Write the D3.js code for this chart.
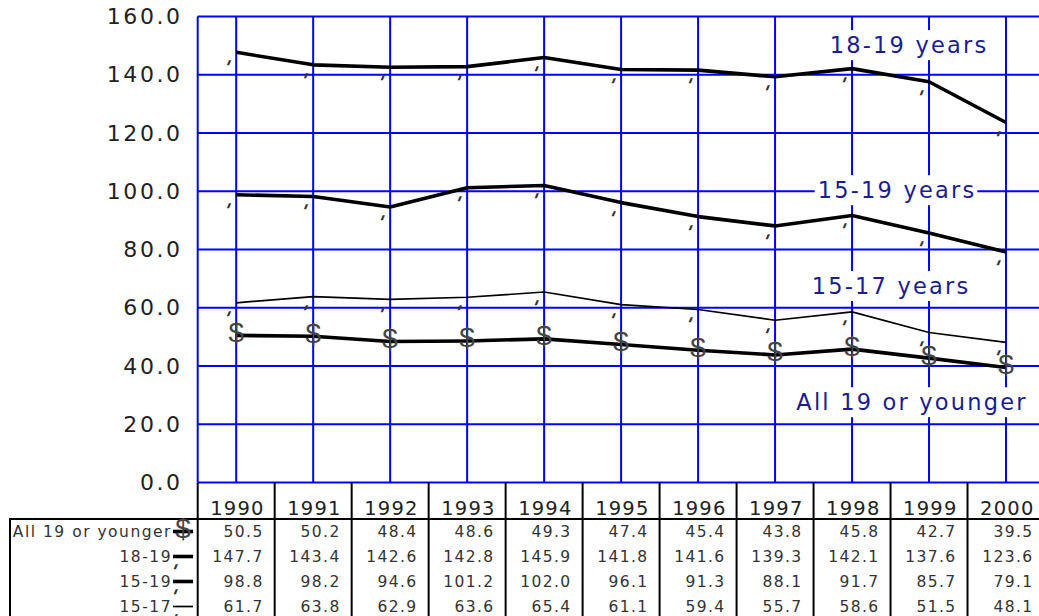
<!DOCTYPE html>
<html>
<head>
<meta charset="utf-8">
<script src="https://cdn.jsdelivr.net/npm/d3@7"></script>
<style>
  body { margin: 0; background: #fff; }
  svg { display: block; }
  text { font-family: "DejaVu Sans", sans-serif; }
</style>
</head>
<body>
<div id="chart"></div>
<script>
// data
var years = [1990, 1991, 1992, 1993, 1994, 1995, 1996, 1997, 1998, 1999, 2000];
var all19 = [50.5, 50.2, 48.4, 48.6, 49.3, 47.4, 45.4, 43.8, 45.8, 42.7, 39.5];
var age1819 = [147.7, 143.4, 142.6, 142.8, 145.9, 141.8, 141.6, 139.3, 142.1, 137.6, 123.6];
var age1519 = [98.8, 98.2, 94.6, 101.2, 102.0, 96.1, 91.3, 88.1, 91.7, 85.7, 79.1];
var age1517 = [61.7, 63.8, 62.9, 63.6, 65.4, 61.1, 59.4, 55.7, 58.6, 51.5, 48.1];
var yTicks = [0, 20, 40, 60, 80, 100, 120, 140, 160];
var rowNames = ["All 19 or younger", "18-19", "15-19", "15-17"];
var seriesLabels = ["All 19 or younger", "18-19 years", "15-19 years", "15-17 years"];

var W = 1039, H = 616;
var plotLeft = 197.7, plotRight = 1044.5, plotTop = 16.5, plotBottom = 482.5;
var rowH = 25, headerBottom = 519, tableLeft = 10;

var series = [
  {name: rowNames[0], label: seriesLabels[0], values: all19, width: 3.6, marker: "$", lx: 912, ly: 27.6},
  {name: rowNames[1], label: seriesLabels[1], values: age1819, width: 3.6, marker: "'", lx: 909, ly: 150.2},
  {name: rowNames[2], label: seriesLabels[2], values: age1519, width: 3.6, marker: "'", lx: 897, ly: 100.4},
  {name: rowNames[3], label: seriesLabels[3], values: age1517, width: 1.7, marker: "'", lx: 891, ly: 67.5}
];

var svg = d3.select("#chart").append("svg")
    .attr("width", W)
    .attr("height", H);

var x = d3.scaleBand()
    .domain(years)
    .range([plotLeft, plotRight]);

var y = d3.scaleLinear()
    .domain([0, 160])
    .range([plotBottom, plotTop]);

var cx = function(d) { return x(d) + x.bandwidth() / 2; };

// y labels
var yAxis = svg.append("g")
    .attr("transform", "translate(" + plotLeft + ",0)")
    .call(d3.axisLeft(y).tickValues(yTicks).tickFormat(d3.format(".1f")).tickSize(0).tickPadding(15));
yAxis.select(".domain").remove();
yAxis.selectAll("text")
    .attr("fill", "#222")
    .style("font-size", "22px")
    .style("letter-spacing", "2.6px");

// horizontal grid
svg.append("g").selectAll("line")
    .data(yTicks)
    .enter()
    .append("line")
      .attr("x1", plotLeft)
      .attr("x2", W)
      .attr("y1", d => y(d))
      .attr("y2", d => y(d))
      .attr("stroke", "#0000ff")
      .attr("stroke-width", 2);

// vertical grid at each year
svg.append("g").selectAll("line")
    .data(years)
    .enter()
    .append("line")
      .attr("x1", cx)
      .attr("x2", cx)
      .attr("y1", plotTop)
      .attr("y2", plotBottom)
      .attr("stroke", "#0000ff")
      .attr("stroke-width", 2);

svg.append("line")
    .attr("x1", plotLeft).attr("x2", plotLeft)
    .attr("y1", plotTop).attr("y2", plotBottom)
    .attr("stroke", "#0000ff")
    .attr("stroke-width", 2);

// series labels with white boxes
var labels = svg.append("g").selectAll("g")
    .data(series)
    .enter()
    .append("g")
      .attr("transform", d => "translate(" + d.lx + "," + y(d.ly) + ")");
labels.append("text")
    .attr("text-anchor", "middle")
    .attr("dy", "0.36em")
    .attr("fill", "#1c1c8e")
    .style("font-size", "22.5px")
    .style("letter-spacing", "2.2px")
    .text(d => d.label);
labels.each(function() {
  var g = d3.select(this);
  var b = g.select("text").node().getBBox();
  g.insert("rect", "text")
    .attr("x", b.x - 3)
    .attr("y", b.y - 2)
    .attr("width", b.width + 4)
    .attr("height", b.height + 4)
    .attr("fill", "#fff");
});

// lines
var line = d3.line()
    .x((d, i) => cx(years[i]))
    .y(d => y(d));

svg.append("g").selectAll("path")
    .data(series)
    .enter()
    .append("path")
      .attr("d", d => line(d.values))
      .attr("fill", "none")
      .attr("stroke", "#000")
      .attr("stroke-linejoin", "round")
      .attr("stroke-width", d => d.width);

// markers
function drawMarker(sel, m) {
  if (m === "$") {
    sel.append("text")
      .attr("text-anchor", "middle")
      .attr("dy", 6.5)
      .attr("fill", "#444")
      .style("font-family", "'Liberation Sans', sans-serif")
      .style("font-size", "28px")
      .text("$");
  } else {
    sel.append("g")
      .attr("transform", "translate(-3,0) skewX(-22)")
      .append("text")
      .attr("text-anchor", "middle")
      .attr("dy", 22)
      .attr("fill", "#333")
      .style("font-size", "19px")
      .style("font-weight", "bold")
      .text("'");
  }
}

series.forEach(function(s) {
  s.values.forEach(function(v, i) {
    var g = svg.append("g").attr("transform", "translate(" + cx(years[i]) + "," + y(v) + ")");
    drawMarker(g, s.marker);
  });
});

// data table
var table = svg.append("g");
var colEdges = years.map(d => x(d)).concat([plotRight]);

table.selectAll("line.col")
    .data(colEdges)
    .enter()
    .append("line")
      .attr("x1", d => d).attr("x2", d => d)
      .attr("y1", plotBottom).attr("y2", H)
      .attr("stroke", "#000")
      .attr("stroke-width", 2);

table.append("line")
    .attr("x1", tableLeft).attr("x2", W)
    .attr("y1", headerBottom).attr("y2", headerBottom)
    .attr("stroke", "#000").attr("stroke-width", 2);
table.append("line")
    .attr("x1", tableLeft).attr("x2", tableLeft)
    .attr("y1", headerBottom - 1).attr("y2", H)
    .attr("stroke", "#000").attr("stroke-width", 2);

table.selectAll("text.year")
    .data(years)
    .enter()
    .append("text")
      .attr("x", d => x(d) + x.bandwidth() - 10)
      .attr("y", 515)
      .attr("text-anchor", "end")
      .attr("fill", "#222")
      .style("font-size", "19.5px")
      .style("letter-spacing", "1.2px")
      .text(d => d);

series.forEach(function(s, r) {
  var cy = headerBottom + rowH * r + 12.5;
  table.append("text")
    .attr("x", 172)
    .attr("y", cy)
    .attr("dy", "0.36em")
    .attr("text-anchor", "end")
    .attr("fill", "#333")
    .style("font-size", "15.5px")
    .style("letter-spacing", "1.5px")
    .text(s.name);
  table.append("line")
    .attr("x1", 173).attr("x2", 193)
    .attr("y1", cy).attr("y2", cy)
    .attr("stroke", "#000")
    .attr("stroke-width", s.width);
  var g = table.append("g").attr("transform", "translate(183," + cy + ")");
  drawMarker(g, s.marker);
  table.selectAll(null)
    .data(s.values)
    .enter()
    .append("text")
      .attr("x", (d, i) => x(years[i]) + x.bandwidth() - 11)
      .attr("y", cy)
      .attr("dy", "0.36em")
      .attr("text-anchor", "end")
      .attr("fill", "#333")
      .style("font-size", "15.5px")
      .style("letter-spacing", "1.4px")
      .text(d => d3.format(".1f")(d));
});
</script>
</body>
</html>
